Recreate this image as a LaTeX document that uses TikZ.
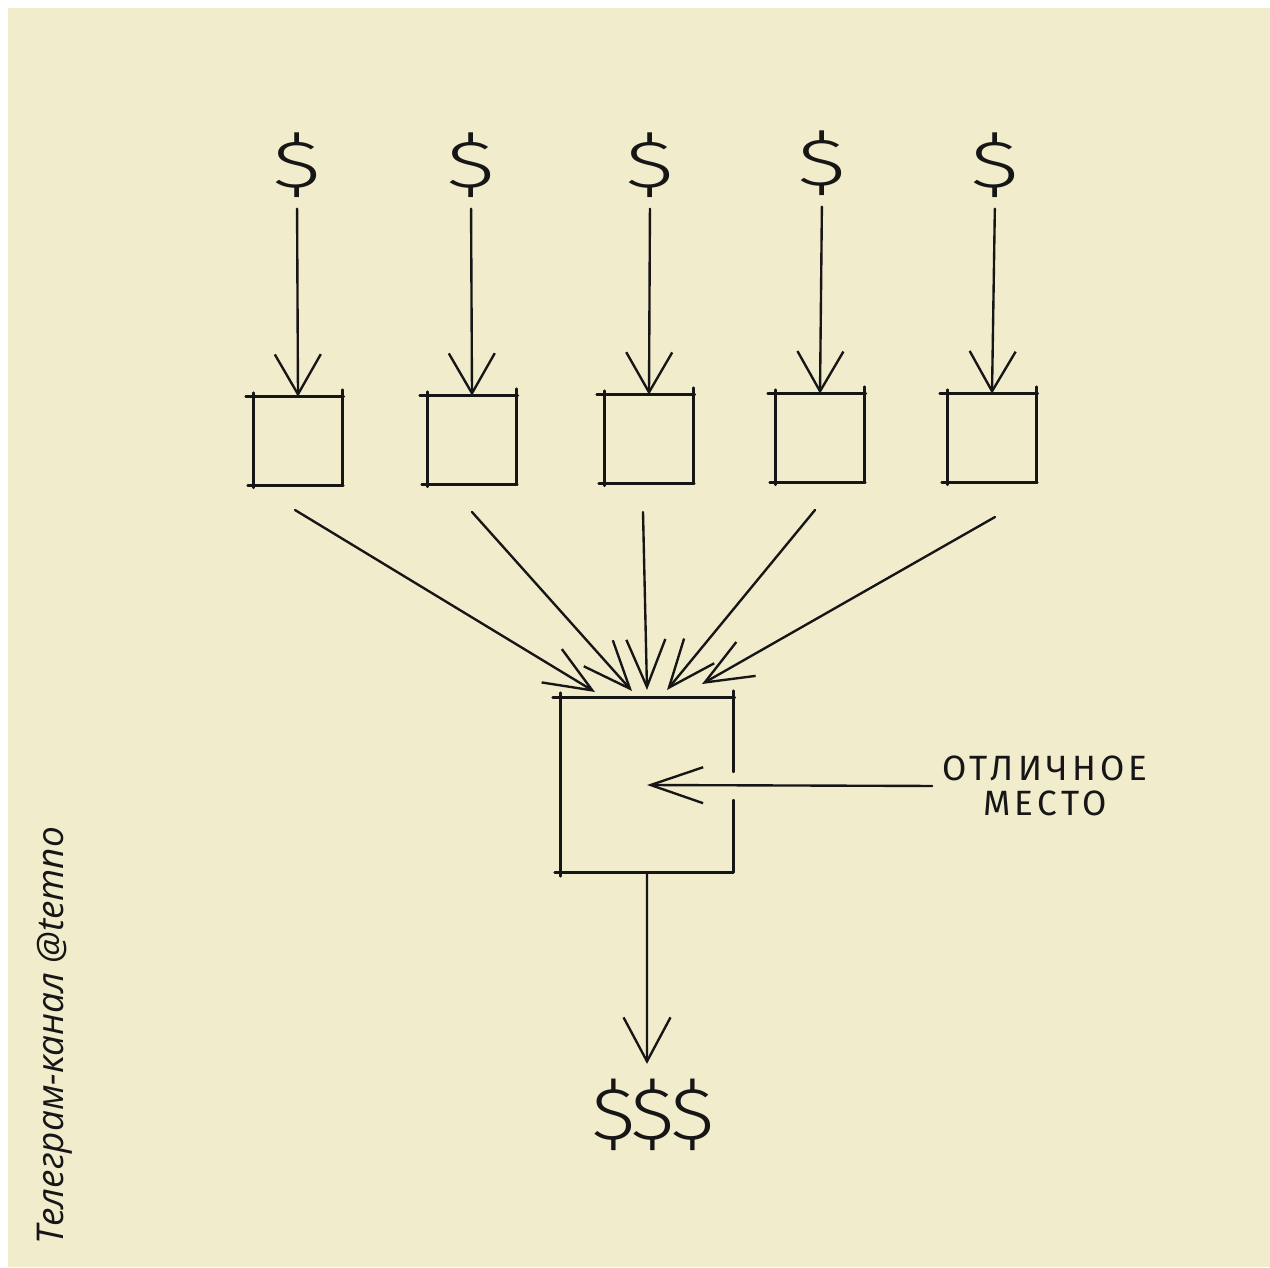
\documentclass[tikz,border=0pt]{standalone}
\usepackage{fontspec}
\usetikzlibrary{arrows.meta}
\newfontfamily\handfont{Fira Sans}[LetterSpace=12]
\newfontfamily\dollarfont{Fira Sans Light}[FakeStretch=1.4]
\newfontfamily\outfont{Fira Sans Light}[FakeStretch=1.15]
\newfontfamily\markfont{Open Sans}
\definecolor{paper}{RGB}{241,236,204}
\definecolor{ink}{RGB}{22,22,22}
\tikzset{
  sk/.style={draw=ink, line width=1.35pt, line cap=round},
  boxnode/.style={minimum width=1.76cm, minimum height=1.76cm, inner sep=0pt},
  dollar/.style={font=\dollarfont\fontsize{38}{40}\selectfont, text=ink, inner sep=0pt},
  toparrow/.style={sk, -{Straight Barb[length=0.8cm,width=0.92cm,line width=1.35pt]}},
  fanarrow/.style={sk, -{Straight Barb[length=0.95cm,width=0.78cm,line width=1.35pt]}},
}
\newcommand\sketchbox[1]{%
  \draw[sk] ([xshift=-0.16cm]#1.north west) -- ([xshift=0.03cm]#1.north east);
  \draw[sk] ([yshift=0.08cm]#1.north west) -- ([yshift=-0.05cm]#1.south west);
  \draw[sk] ([xshift=-0.12cm]#1.south west) -- ([xshift=0.02cm]#1.south east);
  \draw[sk] ([yshift=0.14cm]#1.north east) -- (#1.south east);
}
\begin{document}
\begin{tikzpicture}[x=0.02cm, y=-0.02cm]
  \useasboundingbox (0,0) rectangle (1270,1267);
  \fill[white] (0,0) rectangle (1270,1267);
  \fill[paper] (8,8) rectangle (1270,1267);

  % top dollars
  \node[dollar] (d1) at (297,165) {\$};
  \node[dollar] (d2) at (471,165) {\$};
  \node[dollar] (d3) at (650,165) {\$};
  \node[dollar] (d4) at (822,163) {\$};
  \node[dollar] (d5) at (995,165) {\$};

  % small boxes
  \node[boxnode] (b1) at (298,441) {};
  \node[boxnode] (b2) at (472,440) {};
  \node[boxnode] (b3) at (649,439) {};
  \node[boxnode] (b4) at (820,438) {};
  \node[boxnode] (b5) at (992,438) {};
  \foreach \b in {b1,b2,b3,b4,b5} {\sketchbox{\b}}

  % top arrows
  \foreach \i in {1,...,5} {
    \draw[toparrow, shorten <=0.22cm] (d\i.south) -- (b\i.north);
  }

  % big box
  \node[minimum width=3.44cm, minimum height=3.48cm, inner sep=0pt] (big) at (647,785) {};
  \draw[sk] ([xshift=-0.16cm]big.north west) -- ([xshift=0.03cm]big.north east);
  \draw[sk] ([yshift=0.1cm]big.north west) -- ([yshift=-0.08cm]big.south west);
  \draw[sk] ([xshift=-0.12cm]big.south west) -- (big.south east);
  \draw[sk] ([yshift=0.14cm]big.north east) -- ([yshift=0.26cm]big.east);
  \draw[sk] ([yshift=-0.3cm]big.east) -- (big.south east);

  % fan arrows
  \coordinate (s1) at (295,510);
  \coordinate (s2) at (472,512);
  \coordinate (s3) at (643,512);
  \coordinate (s4) at (815,510);
  \coordinate (s5) at (995,517);
  \coordinate (t1) at (595,692);
  \coordinate (t2) at (632,691);
  \coordinate (t3) at (647,690);
  \coordinate (t4) at (667,690);
  \coordinate (t5) at (702,684);
  \foreach \i in {1,...,5} {
    \draw[fanarrow] (s\i) -- (t\i);
  }

  % label
  \node[font=\handfont\fontsize{20}{20}\selectfont, text=ink, align=center, inner sep=0pt] (lab) at (1045,786) {ОТЛИЧНОЕ\\МЕСТО};
  \draw[sk, -{Straight Barb[length=1.05cm,width=0.72cm,line width=1.35pt]}, shorten <=0.2cm] (lab.west) -- (big.center);

  % bottom output
  \node[font=\outfont\fontsize{42}{44}\selectfont, text=ink, inner sep=0pt] (out) at (653,1115) {\$\kern-3pt\$\kern-3pt\$};
  \draw[sk, -{Straight Barb[length=0.88cm,width=0.94cm,line width=1.35pt]}, shorten >=0.3cm] (big.south) -- ([xshift=-0.12cm]out.north);

  % watermark
  \node[font=\markfont\itshape\fontsize{21}{23}\selectfont, text=ink, rotate=90, inner sep=0pt] (wm) at (55,1036) {Телеграм-канал @temno};
\end{tikzpicture}
\end{document}
